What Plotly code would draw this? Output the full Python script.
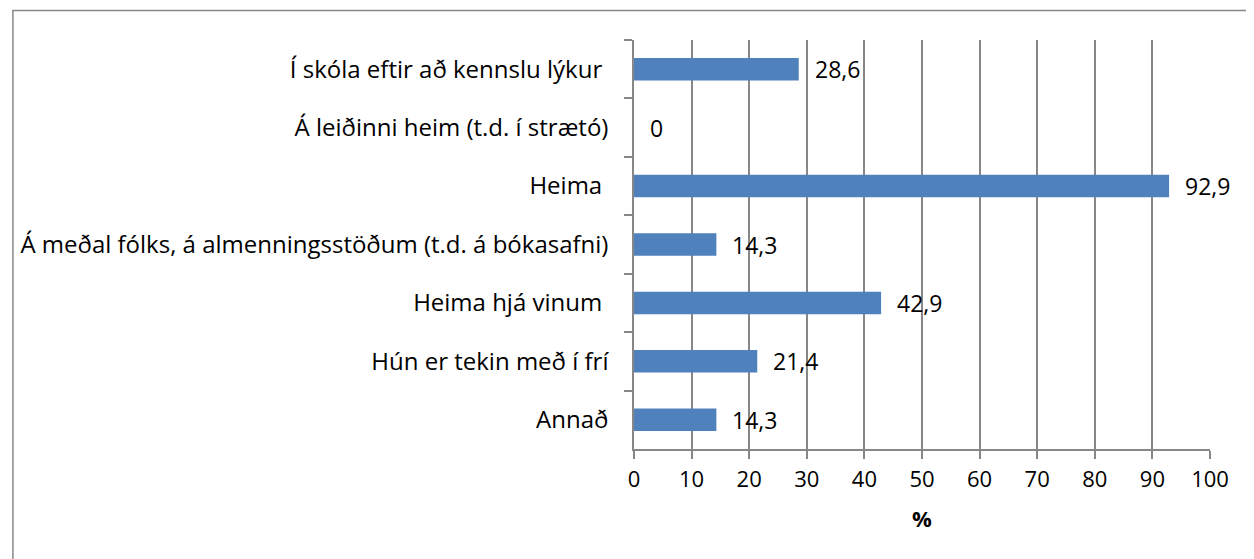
import plotly.graph_objects as go

categories = [
    "Í skóla eftir að kennslu lýkur\u00a0",
    "Á leiðinni heim (t.d. í strætó)",
    "Heima\u00a0",
    "Á meðal fólks, á almenningsstöðum (t.d. á bókasafni)",
    "Heima hjá vinum\u00a0",
    "Hún er tekin með í frí",
    "Annað",
]
values = [28.6, 0, 92.9, 14.3, 42.9, 21.4, 14.3]
x_ticks = [0, 10, 20, 30, 40, 50, 60, 70, 80, 90, 100]
x_title = "%"

FONT = "Open Sans"
GRID = "#878787"
OFF = 8  # page body margin
W, H = 1254 - OFF, 559 - OFF
L, R, T, B = 632 - OFF, 44, 40 - OFF, 118 - OFF

def fmt(v):
    s = f"{v:.1f}".replace(".", ",")
    return "0" if v == 0 else s

fig = go.Figure()
fig.add_trace(go.Bar(
    x=values, y=categories, orientation="h",
    marker=dict(color="#4F81BD", line=dict(width=0)),
    width=0.385, hoverinfo="skip",
))

for v, c in zip(values, categories):
    fig.add_annotation(x=v, y=c, xref="x", yref="y", text=fmt(v),
                       showarrow=False, xanchor="left", xshift=14,
                       font=dict(family=FONT, size=23, color="#000"))

pw, ph = W - L - R, H - T - B
fig.add_shape(type="rect", xref="paper", yref="paper",
              x0=(0.75 - L) / pw, x1=(W + 10 - L) / pw,
              y0=-(H + 10 - T - ph) / ph, y1=1 + (T - 2.5) / ph,
              line=dict(color="#878787", width=1.5), fillcolor="rgba(0,0,0,0)")

fig.update_layout(
    width=W, height=H,
    margin=dict(l=L, r=R, t=T, b=B, pad=0),
    paper_bgcolor="white", plot_bgcolor="white",
    showlegend=False,
    font=dict(family=FONT, size=22, color="#000"),
    xaxis=dict(
        range=[0, 100], tickvals=x_ticks, ticktext=[str(t) for t in x_ticks],
        showgrid=True, gridcolor=GRID, gridwidth=1.5,
        showline=True, linecolor=GRID, linewidth=1.5,
        ticks="outside", ticklen=8, tickcolor=GRID, tickwidth=1.5,
        ticklabelstandoff=2, tickfont=dict(family=FONT, size=22),
        zeroline=False, fixedrange=True,
        title=dict(text="<b>" + x_title + "</b>", font=dict(family=FONT, size=22), standoff=19),
    ),
    yaxis=dict(
        autorange="reversed", categoryorder="array", categoryarray=categories,
        showline=True, linecolor=GRID, linewidth=1.5,
        ticks="outside", ticklen=8, tickcolor=GRID, tickwidth=1.5,
        tickson="boundaries", showgrid=False, zeroline=False,
        ticklabelstandoff=19, tickfont=dict(family=FONT, size=24),
        fixedrange=True,
    ),
)

fig.write_html("out.html")
